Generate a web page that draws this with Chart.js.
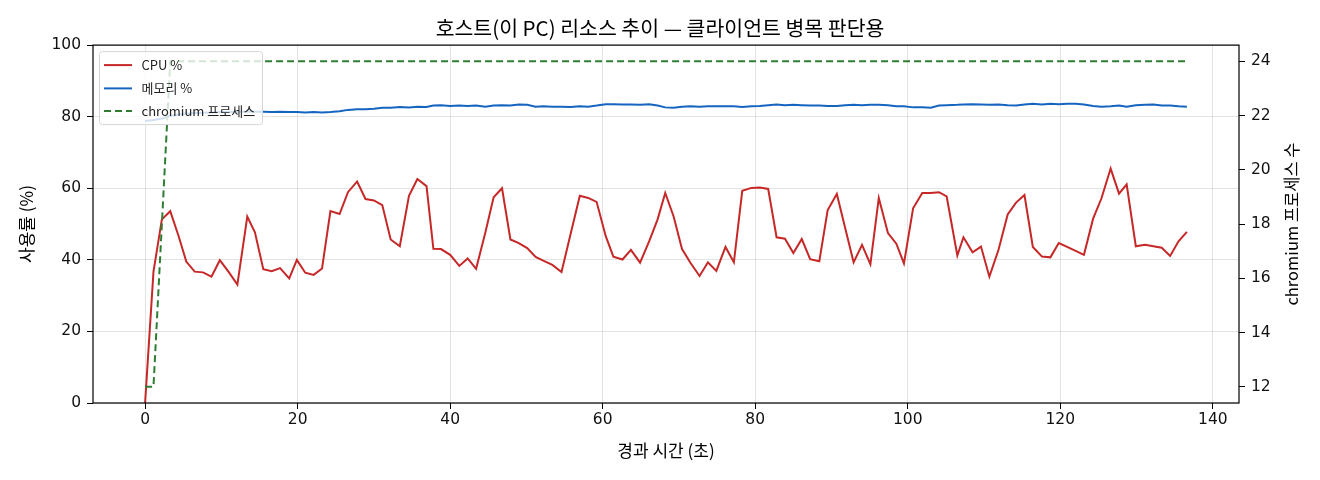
<!DOCTYPE html>
<html><head><meta charset="utf-8">
<script src="https://cdn.jsdelivr.net/npm/chart.js@4.4.1/dist/chart.umd.min.js"></script>
<style>html,body{margin:0;padding:0;background:#fff;} #wrap{width:1320px;height:480px;}</style>
</head><body><div id="wrap"><canvas id="c" width="1320" height="480"></canvas></div>
<script>
// ---- data ----
const times = [
  0.0, 1.1, 2.2, 3.3, 4.4, 5.4, 6.5, 7.6, 8.7, 9.8,
  11.0, 12.1, 13.4, 14.4, 15.5, 16.6, 17.7, 18.9, 19.9, 21.0,
  22.1, 23.2, 24.3, 25.5, 26.6, 27.8, 28.9, 30.0, 31.1, 32.2,
  33.4, 34.6, 35.7, 36.9, 37.8, 38.8, 40.0, 41.2, 42.3, 43.4,
  44.6, 45.7, 46.8, 47.9, 49.0, 50.1, 51.2, 52.2, 53.4, 54.6,
  55.8, 57.0, 58.1, 59.2, 60.4, 61.4, 62.6, 63.7, 64.9, 66.1,
  67.2, 68.2, 69.3, 70.4, 71.5, 72.7, 73.8, 74.9, 76.1, 77.2,
  78.3, 79.5, 80.6, 81.7, 82.8, 83.9, 85.0, 86.1, 87.2, 88.4,
  89.5, 90.7, 91.8, 92.9, 94.0, 95.1, 96.2, 97.4, 98.5, 99.5,
  100.7, 101.9, 103.0, 104.1, 105.1, 106.5, 107.3, 108.5, 109.6, 110.7,
  111.9, 113.1, 114.2, 115.3, 116.4, 117.6, 118.7, 119.8, 120.9, 122.0,
  123.1, 124.3, 125.4, 126.6, 127.7, 128.7, 129.9, 131.1, 132.2, 133.3,
  134.4, 135.5, 136.6
];
const cpuPct = [
  0, 36.7, 51.3, 53.6, 46.6, 39.5, 36.7, 36.5, 35.3, 39.9,
  36.5, 33.1, 52.1, 47.7, 37.4, 36.8, 37.7, 34.8, 40.0, 36.4,
  35.8, 37.6, 53.6, 52.8, 58.9, 61.9, 57.0, 56.6, 55.3, 45.7,
  43.8, 57.9, 62.6, 60.6, 43.1, 43.0, 41.4, 38.3, 40.4, 37.5,
  47.5, 57.5, 60.0, 45.7, 44.7, 43.3, 40.8, 39.8, 38.6, 36.6,
  47.3, 57.9, 57.3, 56.2, 46.6, 40.9, 40.1, 42.8, 39.2, 45.2,
  51.3, 58.7, 52.1, 43.0, 39.2, 35.5, 39.3, 36.9, 43.6, 39.3,
  59.3, 60.1, 60.2, 59.8, 46.3, 45.9, 41.9, 45.8, 40.2, 39.6,
  53.9, 58.4, 48.8, 39.3, 44.2, 38.8, 57.3, 47.5, 44.5, 39.0,
  54.4, 58.7, 58.7, 58.9, 57.7, 41.2, 46.3, 42.1, 43.7, 35.3,
  42.8, 52.7, 56.0, 58.1, 43.6, 40.9, 40.7, 44.7, 43.6, 42.5,
  41.4, 51.5, 57.2, 65.5, 58.5, 61.1, 43.8, 44.2, 43.8, 43.4,
  41.1, 45.2, 47.8
];
const memPct = [
  78.8, 79.1, 79.5, 80.2, 80.6, 80.9, 81.0, 81.1, 81.2, 81.3,
  81.3, 81.4, 81.4, 81.4, 81.4, 81.3, 81.4, 81.3, 81.3, 81.2,
  81.3, 81.2, 81.3, 81.5, 81.9, 82.1, 82.1, 82.2, 82.5, 82.5,
  82.7, 82.6, 82.8, 82.7, 83.1, 83.2, 83.0, 83.1, 83.0, 83.1,
  82.8, 83.1, 83.2, 83.1, 83.4, 83.3, 82.8, 82.9, 82.8, 82.8,
  82.7, 82.9, 82.8, 83.1, 83.5, 83.5, 83.4, 83.4, 83.3, 83.5,
  83.1, 82.6, 82.5, 82.8, 82.9, 82.8, 82.9, 82.9, 82.9, 82.9,
  82.7, 82.9, 83.0, 83.2, 83.4, 83.2, 83.3, 83.2, 83.1, 83.1,
  83.0, 83.0, 83.2, 83.3, 83.2, 83.3, 83.3, 83.2, 82.9, 82.9,
  82.6, 82.6, 82.5, 83.1, 83.2, 83.3, 83.4, 83.5, 83.4, 83.3,
  83.4, 83.2, 83.1, 83.4, 83.6, 83.4, 83.6, 83.5, 83.6, 83.6,
  83.4, 83.0, 82.8, 82.9, 83.1, 82.8, 83.2, 83.3, 83.4, 83.1,
  83.1, 82.9, 82.8
];
const chromiumCount = [
  12, 12, 18, 24, 24, 24, 24, 24, 24, 24,
  24, 24, 24, 24, 24, 24, 24, 24, 24, 24,
  24, 24, 24, 24, 24, 24, 24, 24, 24, 24,
  24, 24, 24, 24, 24, 24, 24, 24, 24, 24,
  24, 24, 24, 24, 24, 24, 24, 24, 24, 24,
  24, 24, 24, 24, 24, 24, 24, 24, 24, 24,
  24, 24, 24, 24, 24, 24, 24, 24, 24, 24,
  24, 24, 24, 24, 24, 24, 24, 24, 24, 24,
  24, 24, 24, 24, 24, 24, 24, 24, 24, 24,
  24, 24, 24, 24, 24, 24, 24, 24, 24, 24,
  24, 24, 24, 24, 24, 24, 24, 24, 24, 24,
  24, 24, 24, 24, 24, 24, 24, 24, 24, 24,
  24, 24, 24
];
const seriesLabels = ['CPU %', '메모리 %', 'chromium 프로세스'];
const xTicks = [0, 20, 40, 60, 80, 100, 120, 140];
const yLeftTicks = [0, 20, 40, 60, 80, 100];
const yRightTicks = [12, 14, 16, 18, 20, 22, 24];
const titleText = '호스트(이 PC) 리소스 추이 — 클라이언트 병목 판단용';
const xTitle = '경과 시간 (초)';
const yLeftTitle = '사용률 (%)';
const yRightTitle = 'chromium 프로세스 수';

// ---- chart ----
const FONT = "'Noto Sans CJK KR', 'Noto Sans', sans-serif";
const TICKFONT = "'DejaVu Sans', 'Noto Sans CJK KR', sans-serif";
const pts = ys => times.map((t, i) => ({ x: t, y: ys[i] }));
const GRID = 'rgba(0,0,0,0.11)';
const fixTicks = arr => s => { s.ticks = arr.map(v => ({ value: v })); };

const overlay = {
  id: 'overlay',
  afterDatasetsDraw(chart) {
    const ctx = chart.ctx, a = chart.chartArea;
    ctx.save();
    ctx.strokeStyle = '#000'; ctx.lineWidth = 1.2;
    ctx.strokeRect(a.left, a.top, a.right - a.left, a.bottom - a.top);
    const bx = a.left + 6.5, by = a.top + 6.5, bw = 163, bh = 73, r = 3;
    ctx.beginPath();
    ctx.moveTo(bx + r, by); ctx.lineTo(bx + bw - r, by); ctx.arcTo(bx + bw, by, bx + bw, by + r, r);
    ctx.lineTo(bx + bw, by + bh - r); ctx.arcTo(bx + bw, by + bh, bx + bw - r, by + bh, r);
    ctx.lineTo(bx + r, by + bh); ctx.arcTo(bx, by + bh, bx, by + bh - r, r);
    ctx.lineTo(bx, by + r); ctx.arcTo(bx, by, bx + r, by, r); ctx.closePath();
    ctx.fillStyle = 'rgba(255,255,255,0.8)'; ctx.fill();
    ctx.strokeStyle = '#d6d6d6'; ctx.lineWidth = 1; ctx.stroke();
    const rows = [a.top + 20, a.top + 43.3, a.top + 66];
    chart.data.datasets.forEach((ds, i) => {
      const y = rows[i];
      ctx.beginPath();
      ctx.strokeStyle = ds.borderColor; ctx.lineWidth = ds.borderWidth;
      ctx.setLineDash(ds.borderDash || []);
      ctx.moveTo(a.left + 11, y); ctx.lineTo(a.left + 39, y); ctx.stroke();
      ctx.setLineDash([]);
      ctx.fillStyle = '#222'; ctx.font = '13px ' + FONT;
      ctx.textBaseline = 'middle'; ctx.textAlign = 'left';
      ctx.fillText(ds.label, a.left + 48.5, y);
    });
    ctx.restore();
  },
  afterDraw(chart) {
    const ctx = chart.ctx, a = chart.chartArea;
    ctx.save();
    ctx.translate(1292, (a.top + a.bottom) / 2);
    ctx.rotate(-Math.PI / 2);
    ctx.fillStyle = '#000'; ctx.font = '16.5px ' + FONT;
    ctx.textAlign = 'center'; ctx.textBaseline = 'middle';
    ctx.fillText(yRightTitle, 0, 0);
    ctx.restore();
  }
};

new Chart(document.getElementById('c'), {
  type: 'line',
  data: {
    datasets: [
      { label: seriesLabels[0], data: pts(cpuPct), yAxisID: 'y', borderColor: '#c62828', borderWidth: 2, order: 1 },
      { label: seriesLabels[1], data: pts(memPct), yAxisID: 'y', borderColor: '#1565c0', borderWidth: 2, order: 2 },
      { label: seriesLabels[2], data: pts(chromiumCount), yAxisID: 'y2', borderColor: '#2e7d32', borderWidth: 2, borderDash: [7, 4], order: 0 }
    ]
  },
  options: {
    responsive: false, animation: false, devicePixelRatio: 1,
    elements: { point: { radius: 0 }, line: { tension: 0, borderCapStyle: 'butt' } },
    layout: { padding: 0 },
    plugins: {
      legend: { display: false }, tooltip: { enabled: false },
      title: { display: true, text: titleText, color: '#000', font: { family: FONT, size: 20.5, weight: 'normal', lineHeight: 1.2 }, padding: { top: 15.5, bottom: 5 } }
    },
    scales: {
      x: {
        type: 'linear', min: -6.83, max: 143.43,
        afterBuildTicks: fixTicks(xTicks),
        afterFit: s => { s.height = 77; },
        grid: { color: GRID, tickColor: '#000', tickLength: 6, lineWidth: 1 },
        border: { display: false },
        ticks: { color: '#111', font: { family: TICKFONT, size: 15.5 }, padding: 2, maxRotation: 0 },
        title: { display: true, text: xTitle, color: '#000', font: { family: FONT, size: 17 }, padding: { top: 0, bottom: 19.5 } }
      },
      y: {
        position: 'left', min: 0, max: 100,
        afterBuildTicks: fixTicks(yLeftTicks),
        afterFit: s => { s.width = 93; },
        grid: { color: GRID, tickColor: '#000', tickLength: 6, lineWidth: 1 },
        border: { display: false },
        ticks: { color: '#111', font: { family: TICKFONT, size: 15.5 }, padding: 6 },
        title: { display: true, text: yLeftTitle, color: '#000', font: { family: FONT, size: 17 }, padding: { top: 16.5, bottom: 0 } }
      },
      y2: {
        position: 'right', min: 11.4, max: 24.6,
        afterBuildTicks: fixTicks(yRightTicks),
        afterFit: s => { s.width = 81; },
        grid: { drawOnChartArea: false, tickColor: '#000', tickLength: 6 },
        border: { display: false },
        ticks: { color: '#111', font: { family: TICKFONT, size: 15.5 }, padding: 6 }
      }
    }
  },
  plugins: [overlay]
});
</script></body></html>
